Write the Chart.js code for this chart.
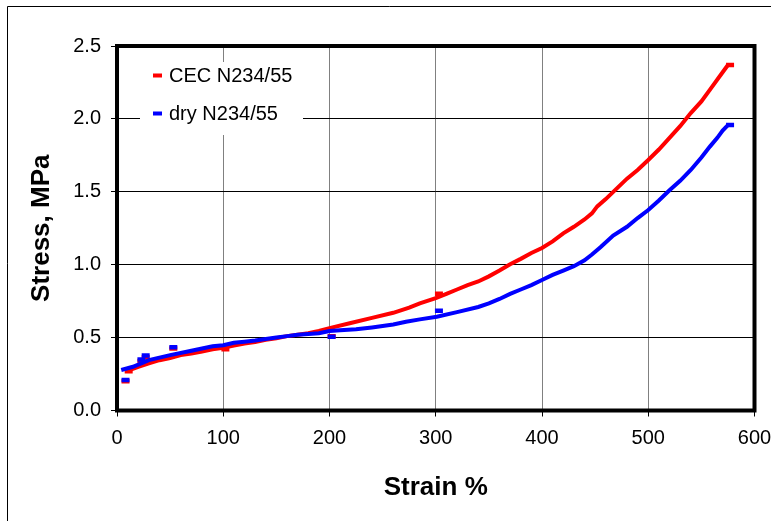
<!DOCTYPE html>
<html>
<head>
<meta charset="utf-8">
<script src="https://cdn.jsdelivr.net/npm/chart.js@4.4.0/dist/chart.umd.min.js"></script>
<style>
  html, body { margin: 0; padding: 0; background: #fff; }
  canvas { display: block; }
</style>
</head>
<body>
<canvas id="stressChart" width="771" height="521"></canvas>
<script>
// CEC N234/55 curve
const cecStrain = [9, 20, 30, 40, 50, 60, 70, 80, 90, 100, 110, 120, 130, 140, 150, 160, 170, 180, 190, 200,
    220, 240, 260, 275, 285, 300, 310, 320, 330, 340, 350, 360, 370, 380, 390, 400,
    410, 420, 430, 440, 447, 452, 460, 470, 480, 490, 500, 510, 520, 530, 540, 550, 560, 570, 575];
const cecStress = [0.27, 0.30, 0.324, 0.345, 0.36, 0.38, 0.39, 0.405, 0.42, 0.43, 0.445, 0.46, 0.47, 0.485, 0.495, 0.51, 0.52, 0.53, 0.545, 0.565,
    0.60, 0.635, 0.67, 0.705, 0.735, 0.77, 0.80, 0.83, 0.86, 0.885, 0.92, 0.96, 1.003, 1.04, 1.08, 1.115,
    1.16, 1.215, 1.26, 1.31, 1.352, 1.40, 1.45, 1.52, 1.59, 1.65, 1.718, 1.79, 1.87, 1.95, 2.04, 2.12, 2.22, 2.32, 2.37];

// dry N234/55 curve
const dryStrain = [4, 15, 30, 50, 70, 90, 100, 110, 120, 130, 140, 150, 160, 170, 180, 190, 200,
    210, 225, 240, 250, 260, 272, 285, 301, 320, 340, 350, 360, 370, 380, 390, 400,
    410, 420, 430, 440, 447, 455, 467, 480, 490, 500, 510, 520, 530, 540, 550, 558, 565, 570, 575];
const dryStress = [0.278, 0.30, 0.346, 0.38, 0.41, 0.44, 0.448, 0.465, 0.472, 0.48, 0.49, 0.50, 0.51, 0.52, 0.525, 0.53, 0.545,
    0.55, 0.557, 0.57, 0.58, 0.59, 0.609, 0.625, 0.643, 0.675, 0.71, 0.735, 0.765, 0.80, 0.83, 0.86, 0.895,
    0.93, 0.96, 0.99, 1.03, 1.07, 1.12, 1.20, 1.26, 1.32, 1.375, 1.44, 1.51, 1.575, 1.65, 1.735, 1.81, 1.87, 1.92, 1.958];

// separate measured points (drawn as dash markers)
const cecMarkStrain = [8, 11, 23, 27, 53, 102, 202, 303, 577];
const cecMarkStress = [0.20, 0.27, 0.34, 0.365, 0.425, 0.42, 0.51, 0.80, 2.37];
const dryMarkStrain = [8, 23, 27, 53, 202, 303, 577];
const dryMarkStress = [0.21, 0.35, 0.378, 0.433, 0.506, 0.685, 1.958];

const xTicks = [0, 100, 200, 300, 400, 500, 600];
const yTicks = [0, 0.5, 1.0, 1.5, 2.0, 2.5];

const red = '#ff0000';
const blue = '#0000ff';
const fontFamily = '"Liberation Sans", Arial, sans-serif';

function toPoints(xs, ys) {
    return xs.map((x, i) => ({ x: x, y: ys[i] }));
}

// outer frame of the picture
const framePlugin = {
    id: 'frame',
    beforeDraw(chart) {
        const ctx = chart.ctx;
        ctx.save();
        ctx.fillStyle = '#fff';
        ctx.fillRect(0, 0, chart.width, chart.height);
        ctx.strokeStyle = '#000';
        ctx.lineWidth = 1;
        ctx.beginPath();
        ctx.moveTo(7.5, chart.height);
        ctx.lineTo(7.5, 6.5);
        ctx.lineTo(chart.width, 6.5);
        ctx.stroke();
        ctx.restore();
    }
};

// thick plot border and legend box inside plot
const plotBoxPlugin = {
    id: 'plotBox',
    beforeDatasetsDraw(chart) {
        const ctx = chart.ctx;
        const a = chart.chartArea;
        ctx.save();
        ctx.strokeStyle = '#000';
        ctx.lineWidth = 4;
        ctx.strokeRect(a.left, a.top, a.right - a.left, a.bottom - a.top);

        // legend
        ctx.fillStyle = '#fff';
        ctx.fillRect(140, 62, 163, 73);
        ctx.font = '20px ' + fontFamily;
        ctx.textBaseline = 'middle';
        ctx.textAlign = 'left';
        let y = 75.5;
        chart.data.datasets.filter(ds => ds.inLegend).forEach(ds => {
            ctx.fillStyle = ds.borderColor;
            ctx.fillRect(153, y - 2, 9, 4);
            ctx.fillStyle = '#000';
            ctx.fillText(ds.label, 169, y + 1);
            y += 38;
        });
        ctx.restore();
    }
};

const ctx = document.getElementById('stressChart').getContext('2d');
const stressChart = new Chart(ctx, {
    type: 'scatter',
    data: {
        datasets: [{
            label: 'CEC N234/55',
            inLegend: true,
            data: toPoints(cecStrain, cecStress),
            showLine: true,
            borderColor: red,
            borderWidth: 4,
            pointRadius: 0,
            order: 4
        }, {
            label: 'dry N234/55',
            inLegend: true,
            data: toPoints(dryStrain, dryStress),
            showLine: true,
            borderColor: blue,
            borderWidth: 4,
            pointRadius: 0,
            order: 2
        }, {
            label: 'CEC points',
            data: toPoints(cecMarkStrain, cecMarkStress),
            pointStyle: 'line',
            pointRadius: 4,
            pointBorderWidth: 4.5,
            pointBorderColor: red,
            borderColor: red,
            order: 3
        }, {
            label: 'dry points',
            data: toPoints(dryMarkStrain, dryMarkStress),
            pointStyle: 'line',
            pointRadius: 4,
            pointBorderWidth: 4.5,
            pointBorderColor: blue,
            borderColor: blue,
            order: 1
        }]
    },
    options: {
        responsive: false,
        animation: false,
        layout: {
            padding: { top: 46, right: 16.5, left: 0, bottom: 0 }
        },
        plugins: {
            legend: { display: false },
            tooltip: { enabled: false }
        },
        scales: {
            x: {
                type: 'linear',
                min: 0,
                max: 600,
                afterBuildTicks: scale => { scale.ticks = xTicks.map(v => ({ value: v })); },
                afterFit: scale => {
                    scale.height = 110.5;
                    scale.paddingLeft = 0;
                    scale.paddingRight = 0;
                },
                ticks: {
                    color: '#000',
                    padding: 10,
                    font: { family: fontFamily, size: 20 },
                    callback: v => String(v)
                },
                grid: {
                    color: '#808080',
                    lineWidth: 1,
                    tickColor: '#000',
                    tickLength: 6
                },
                border: { display: false },
                title: {
                    display: true,
                    text: 'Strain %',
                    color: '#000',
                    font: { family: fontFamily, size: 26, weight: 'bold' },
                    padding: { top: 0, bottom: 18 }
                }
            },
            y: {
                type: 'linear',
                min: 0,
                max: 2.5,
                afterBuildTicks: scale => { scale.ticks = yTicks.map(v => ({ value: v })); },
                afterFit: scale => {
                    scale.width = 117;
                    scale.paddingTop = 0;
                    scale.paddingBottom = 0;
                },
                ticks: {
                    color: '#000',
                    padding: 10,
                    font: { family: fontFamily, size: 20 },
                    callback: v => v.toFixed(1)
                },
                grid: {
                    color: '#000',
                    lineWidth: 1,
                    tickColor: '#000',
                    tickLength: 6
                },
                border: { display: false },
                title: {
                    display: true,
                    text: 'Stress, MPa',
                    color: '#000',
                    font: { family: fontFamily, size: 26, weight: 'bold' },
                    padding: { top: 26, bottom: 0 }
                }
            }
        }
    },
    plugins: [framePlugin, plotBoxPlugin]
});
</script>
</body>
</html>
